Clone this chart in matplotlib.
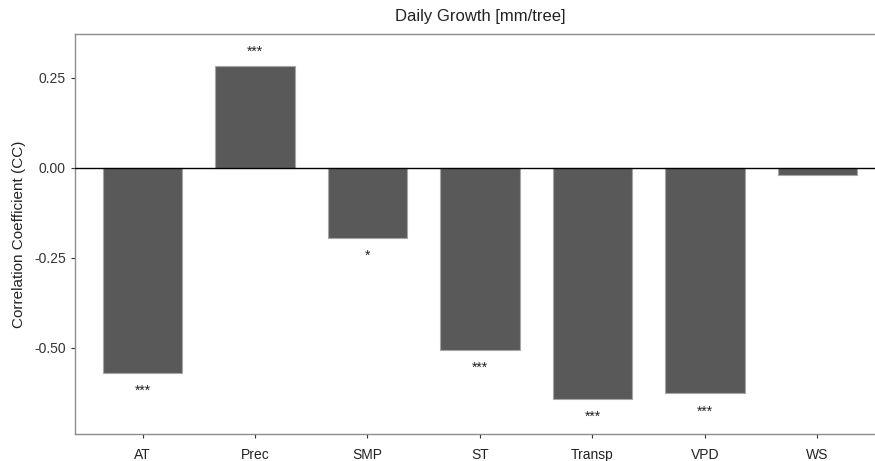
import matplotlib.pyplot as plt

# Correlation of daily growth with each driver
variables = ['AT', 'Prec', 'SMP', 'ST', 'Transp', 'VPD', 'WS']
cc_values = [-0.569, 0.283, -0.195, -0.506, -0.642, -0.626, -0.02]
signif = ['***', '***', '*', '***', '***', '***', '']

plt.rcParams['font.family'] = ['Liberation Sans', 'DejaVu Sans']

fig = plt.figure(figsize=(8.75, 4.61), dpi=100)
# right edge of the panel runs just past the image, as in the original
ax = fig.add_axes([75 / 875, 27 / 461, 810 / 875, 400 / 461])

x = list(range(1, len(variables) + 1))
ax.bar(x, cc_values, width=0.71, color='#595959', edgecolor='#a6a6a6',
       linewidth=0.8, zorder=2)
ax.axhline(0, color='black', linewidth=1.0, zorder=3)

# significance stars just beyond the end of each bar
for xi, v, s in zip(x, cc_values, signif):
    if not s:
        continue
    off = 0.04 if v > 0 else -0.05
    ax.text(xi, v + off, s, ha='center', va='center', fontsize=10,
            color='#222222')

ax.set_xlim(0.4, 7.6)
ax.set_ylim(-0.739, 0.372)
ax.set_xticks(x)
ax.set_xticklabels(variables)
ax.set_yticks([0.25, 0.0, -0.25, -0.5])
ax.set_yticklabels(['0.25', '0.00', '-0.25', '-0.50'])
ax.tick_params(colors='#333333', labelsize=10, length=3, width=0.8)
ax.tick_params(axis='x', labelcolor='#222222', pad=7)
for sp in ax.spines.values():
    sp.set_color('#8c8c8c')
    sp.set_linewidth(1.0)

ax.set_ylabel('Correlation Coefficient (CC)', fontsize=11, color='#222222',
              labelpad=6)
ax.set_title('Daily Growth [mm/tree]', fontsize=12, color='#222222', pad=9)

fig.savefig('out.png', dpi=100)
